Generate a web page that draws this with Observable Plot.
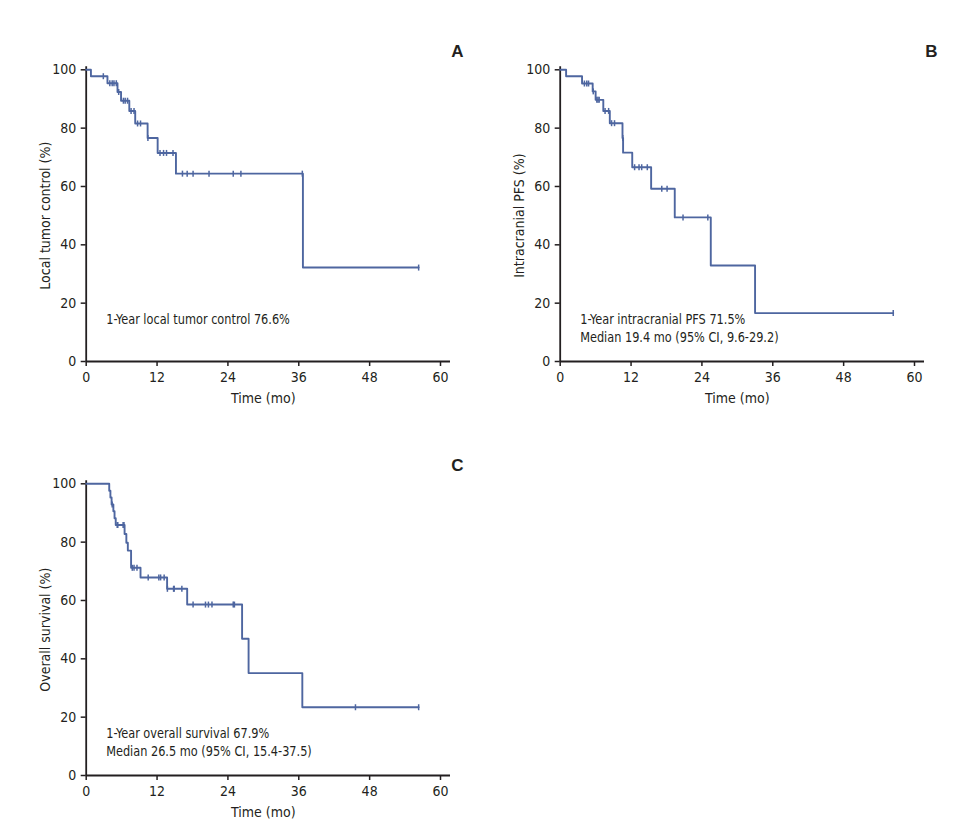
<!DOCTYPE html>
<html><head><meta charset="utf-8">
<script src="https://cdn.jsdelivr.net/npm/d3@7"></script>
<script src="https://cdn.jsdelivr.net/npm/@observablehq/plot@0.6"></script>
<style>
html,body{margin:0;padding:0;background:#fff;}
#wrap{position:relative;width:974px;height:832px;overflow:hidden;}
.panel{position:absolute;}
</style></head><body><div id="wrap"></div>
<script>
const xTicks = [0, 12, 24, 36, 48, 60];
const yTicks = [0, 20, 40, 60, 80, 100];
const xLabel = "Time (mo)";
const panelLetters = ["A", "B", "C"];
const yLabels = ["Local tumor control (%)", "Intracranial PFS (%)", "Overall survival (%)"];
const annotA = ["1-Year local tumor control 76.6%"];
const annotB = ["1-Year intracranial PFS 71.5%", "Median 19.4 mo (95% CI, 9.6-29.2)"];
const annotC = ["1-Year overall survival 67.9%", "Median 26.5 mo (95% CI, 15.4-37.5)"];

// Panel A: local tumor control
const aDropTimes = [0.8, 3.6, 5.3, 5.9, 7.3, 8.3, 10.4, 12.1, 15.2, 36.7];
const aDropSurv  = [97.8, 95.4, 92.4, 89.4, 85.9, 81.6, 76.6, 71.5, 64.4, 32.2];
const aCensorTimes = [2.9, 4.0, 4.4, 4.7, 5.1, 5.5, 6.3, 6.6, 7.0, 7.6, 8.1, 8.7, 9.2, 10.45, 12.5, 13.1, 13.6, 14.7, 16.3, 17.1, 18.1, 20.8, 24.9, 26.2, 36.6, 56.3];

// Panel B: intracranial PFS
const bDropTimes = [1.0, 3.7, 5.5, 6.0, 7.3, 8.4, 10.55, 10.65, 12.2, 15.4, 19.4, 25.5, 33.0];
const bDropSurv  = [97.8, 95.3, 92.6, 89.7, 85.9, 81.7, 76.6, 71.6, 66.6, 59.2, 49.4, 32.9, 16.6];
const bCensorTimes = [4.1, 4.5, 4.8, 5.6, 6.2, 6.4, 6.6, 7.6, 8.2, 8.7, 9.2, 10.6, 12.6, 13.35, 13.8, 14.75, 17.2, 18.1, 20.8, 25.0, 56.4];

// Panel C: overall survival
const cDropTimes = [3.9, 4.1, 4.3, 4.6, 4.8, 5.0, 6.5, 6.8, 7.05, 7.6, 9.2, 13.7, 17.1, 26.4, 27.5, 36.6];
const cDropSurv  = [97.6, 95.3, 92.9, 90.6, 88.2, 85.9, 82.8, 79.8, 77.1, 71.2, 67.9, 64.0, 58.6, 46.9, 35.1, 23.4];
const cCensorTimes = [4.4, 5.25, 5.35, 6.25, 6.4, 7.8, 8.1, 8.6, 10.5, 12.3, 12.6, 13.2, 13.75, 14.8, 14.9, 16.2, 18.1, 20.2, 20.7, 21.3, 24.9, 25.1, 45.6, 56.3];

const FONT = "'Liberation Sans Narrow','Arial Narrow','DejaVu Sans Condensed',sans-serif";
const BLUE = "#4e66a0";
const INK = "#231f20";
const tickSymbol = {draw(ctx, size) { const r = Math.sqrt(size / Math.PI); ctx.moveTo(0, -r); ctx.lineTo(0, r); }};

function panel(drops, survs, censors, yLabel, letter, annot, left, top) {
  const pts = [{t: 0, s: 100}];
  drops.forEach((t, i) => pts.push({t, s: survs[i]}));
  pts.push({t: d3.max(censors), s: survs[survs.length - 1]});
  const survAt = t => { let s = 100; drops.forEach((d, i) => { if (d <= t) s = survs[i]; }); return s; };
  const cens = censors.map(t => ({t, s: survAt(t)}));
  const chart = Plot.plot({
    width: 470, height: 418,
    marginLeft: 85.7, marginRight: 30, marginTop: 69.3, marginBottom: 57,
    style: {fontFamily: FONT, fontSize: "14px", color: INK, background: "transparent", overflow: "visible"},
    x: {domain: [0, 60]},
    y: {domain: [0, 100]},
    marks: [
      Plot.axisX({ticks: xTicks, tickSize: 5, tickPadding: 6, label: null, strokeWidth: 1.5, fontSize: 14}),
      Plot.axisY({ticks: yTicks, tickSize: 5, tickPadding: 5, label: null, strokeWidth: 1.5, fontSize: 14}),
      Plot.ruleY([0], {insetRight: -10, stroke: INK, strokeWidth: 1.8}),
      Plot.ruleX([0], {insetTop: -3, stroke: INK, strokeWidth: 1.8}),
      Plot.line(pts, {x: "t", y: "s", curve: "step-after", stroke: BLUE, strokeWidth: 1.9}),
      Plot.dot(cens, {x: "t", y: "s", symbol: tickSymbol, r: 3, stroke: BLUE, fill: "none", strokeWidth: 1.5}),
      Plot.text([yLabel], {frameAnchor: "left", rotate: -90, dx: -41, textAnchor: "middle", lineAnchor: "middle", fontSize: 14, fill: INK}),
      Plot.text([xLabel], {frameAnchor: "bottom", dy: 37, textAnchor: "middle", lineAnchor: "middle", fontSize: 14, fill: INK}),
      Plot.text([letter], {frameAnchor: "top-right", dx: 17, dy: -18, textAnchor: "middle", lineAnchor: "middle", fontWeight: "bold", fontSize: 17, fontFamily: "'Liberation Sans',Arial,sans-serif", fill: INK}),
      ...annot.map((line, i) => Plot.text([line], {frameAnchor: "bottom-left", dx: 20, dy: -41.5 + i * 17.6, textAnchor: "start", lineAnchor: "middle", fontSize: 14, fill: INK}))
    ]
  });
  // narrow the annotation lines horizontally, as in the condensed face of the original
  chart.querySelectorAll("text").forEach(t => {
    if (annot.includes(t.textContent)) {
      const x = +t.getAttribute("x") || 0, y = +t.getAttribute("y") || 0;
      const tr = t.getAttribute("transform") || "";
      t.setAttribute("transform", `${tr} translate(${x},${y}) scale(0.9,1) translate(${-x},${-y})`);
    }
  });
  chart.classList.add("panel");
  chart.style.left = left + "px";
  chart.style.top = top + "px";
  document.getElementById("wrap").appendChild(chart);
}

panel(aDropTimes, aDropSurv, aCensorTimes, yLabels[0], panelLetters[0], annotA, 0, 0);
panel(bDropTimes, bDropSurv, bCensorTimes, yLabels[1], panelLetters[1], annotB, 474.3, 0);
panel(cDropTimes, cDropSurv, cCensorTimes, yLabels[2], panelLetters[2], annotC, 0, 414);
</script>
</body></html>
